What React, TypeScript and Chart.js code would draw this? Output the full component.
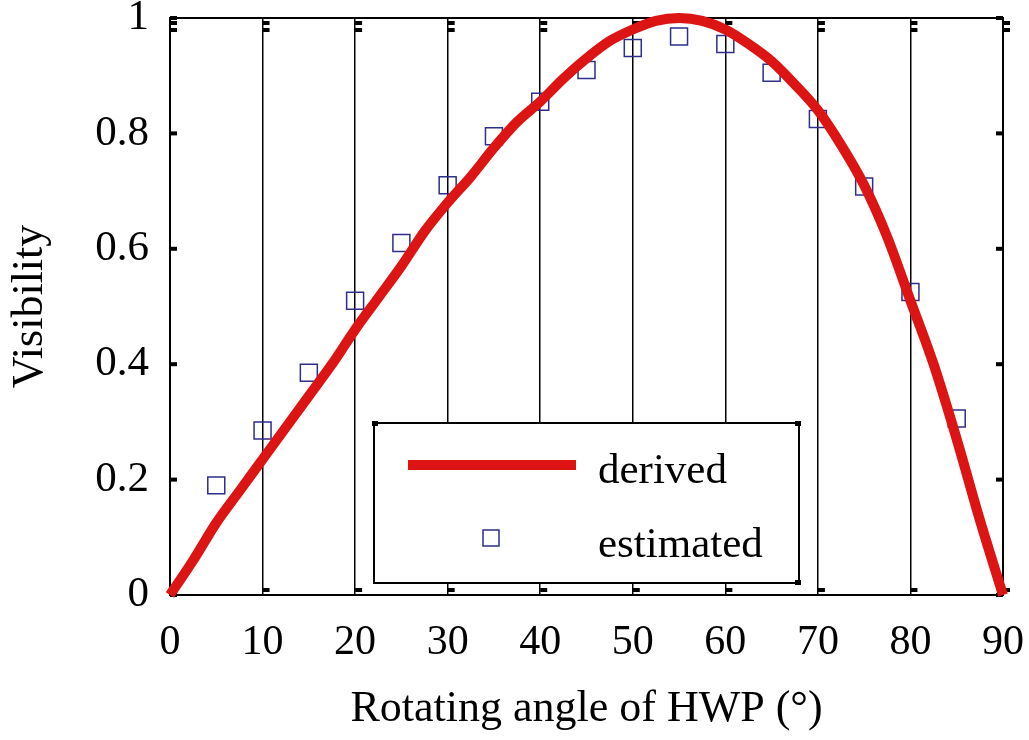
import React, { useEffect, useRef } from "react";
import { Chart, registerables } from "chart.js";

Chart.register(...registerables);

const derivedAngles = [0, 2.5, 5, 7.5, 10, 12.5, 15, 17.5, 20, 22.5, 25, 27.5, 30, 32.5, 35, 37.5, 40, 42.5, 45, 47.5, 50, 52.5, 55, 57.5, 60, 62.5, 65, 67.5, 70, 72.5, 75, 77.5, 80, 82.5, 85, 87.5, 90];
const derivedValues = [0, 0.06, 0.125, 0.18, 0.235, 0.29, 0.345, 0.4, 0.46, 0.515, 0.57, 0.63, 0.68, 0.725, 0.775, 0.82, 0.855, 0.895, 0.93, 0.96, 0.98, 0.995, 1.0, 0.995, 0.98, 0.955, 0.925, 0.885, 0.84, 0.78, 0.71, 0.62, 0.51, 0.4, 0.27, 0.13, 0];

const estimatedAngles = [5, 10, 15, 20, 25, 30, 35, 40, 45, 50, 55, 60, 65, 70, 75, 80, 85];
const estimatedValues = [0.19, 0.285, 0.385, 0.51, 0.61, 0.71, 0.795, 0.855, 0.91, 0.948, 0.968, 0.955, 0.905, 0.825, 0.708, 0.525, 0.306];

const xTicks = [0, 10, 20, 30, 40, 50, 60, 70, 80, 90];
const yTicks = [0, 0.2, 0.4, 0.6, 0.8, 1];
const seriesLabels = ["derived", "estimated"];

const RED = "#dc1414";
const NAVY = "#2e2e8c";
const FONT = "'Liberation Serif', 'DejaVu Serif', serif";

const framePlugin = {
  id: "frameAndLegend",
  beforeDatasetsDraw(chart: any) {
    const { ctx, chartArea } = chart;
    const { left, right, top, bottom } = chartArea;
    const xs = chart.scales.x;
    const ys = chart.scales.y;
    ctx.save();
    // tick marks
    ctx.fillStyle = "#000";
    xTicks.forEach((v) => {
      const px = xs.getPixelForValue(v);
      ctx.fillRect(px, bottom - 7, 7, 4);
      ctx.fillRect(px, top + 3, 7, 4);
      ctx.fillRect(px, top + 10, 7, 4);
    });
    yTicks.forEach((v) => {
      const py = ys.getPixelForValue(v);
      ctx.fillRect(left, py - 2, 7, 4);
      ctx.fillRect(right - 7, py - 2, 7, 4);
    });
    // legend box
    const bx = left + 204;
    const by = top + 405;
    const bw = 425;
    const bh = 160;
    ctx.fillStyle = "#fff";
    ctx.fillRect(bx, by, bw, bh);
    ctx.strokeStyle = "#000";
    ctx.lineWidth = 2;
    ctx.strokeRect(bx, by, bw, bh);
    ctx.fillStyle = "#000";
    ctx.fillRect(bx - 2, by - 2, 6, 5);
    ctx.fillRect(bx + bw - 4, by - 2, 6, 5);
    ctx.fillRect(bx + bw - 4, by + bh - 3, 6, 5);
    // red line sample
    ctx.strokeStyle = RED;
    ctx.lineWidth = 10;
    ctx.beginPath();
    ctx.moveTo(bx + 34, by + 42);
    ctx.lineTo(bx + 202, by + 42);
    ctx.stroke();
    // square sample
    ctx.strokeStyle = NAVY;
    ctx.lineWidth = 1.5;
    ctx.strokeRect(bx + 117 - 8, by + 115 - 8, 16, 16);
    // labels
    ctx.fillStyle = "#000";
    ctx.font = `43px ${FONT}`;
    ctx.textBaseline = "alphabetic";
    ctx.textAlign = "left";
    ctx.fillText(seriesLabels[0], bx + 224, by + 60);
    ctx.fillText(seriesLabels[1], bx + 224, by + 134);
    // frame
    ctx.strokeStyle = "#000";
    ctx.lineWidth = 2;
    ctx.strokeRect(left, top, right - left, bottom - top);
    ctx.restore();
  },
};

export default function App() {
  const ref = useRef<HTMLCanvasElement | null>(null);
  useEffect(() => {
    document.body.style.margin = "0";
    const canvas = ref.current!;
    const chart = new Chart(canvas, {
      type: "scatter",
      data: {
        datasets: [
          {
            label: seriesLabels[0],
            data: derivedAngles.map((x, i) => ({ x, y: derivedValues[i] })),
            showLine: true,
            borderColor: RED,
            backgroundColor: RED,
            borderWidth: 10,
            pointRadius: 0,
            tension: 0.4,
            cubicInterpolationMode: "monotone",
            clip: false,
          } as any,
          {
            label: seriesLabels[1],
            data: estimatedAngles.map((x, i) => ({ x, y: estimatedValues[i] })),
            showLine: false,
            pointStyle: "rect",
            pointRadius: 12,
            borderColor: NAVY,
            backgroundColor: "rgba(0,0,0,0)",
            borderWidth: 1.5,
          } as any,
        ],
      },
      options: {
        responsive: false,
        animation: false,
        layout: { padding: { left: 0, right: 26, top: 18, bottom: 0 } },
        plugins: { legend: { display: false }, tooltip: { enabled: false } },
        scales: {
          x: {
            type: "linear",
            min: 0,
            max: 90,
            afterBuildTicks: (s: any) => {
              s.ticks = xTicks.map((v) => ({ value: v }));
            },
            afterFit: (s: any) => {
              s.height = 145;
              s.paddingLeft = 0;
              s.paddingRight = 0;
            },
            grid: { color: "#000", lineWidth: 1.5, drawTicks: false },
            border: { display: false },
            ticks: {
              color: "#000",
              font: { family: FONT, size: 42 },
              padding: 23,
              maxRotation: 0,
              callback: (v: any) => String(v),
            },
            title: {
              display: true,
              text: "Rotating angle of HWP (°)",
              color: "#000",
              font: { family: FONT, size: 44 },
              padding: { top: 0, bottom: 4 },
            },
          },
          y: {
            type: "linear",
            min: 0,
            max: 1,
            afterBuildTicks: (s: any) => {
              s.ticks = yTicks.map((v) => ({ value: v }));
            },
            afterFit: (s: any) => {
              s.width = 170;
              s.paddingTop = 0;
              s.paddingBottom = 0;
            },
            grid: { display: false, drawTicks: false },
            border: { display: false },
            ticks: {
              color: "#000",
              font: { family: FONT, size: 43 },
              padding: 21,
              callback: (v: any) => String(v),
            },
            title: {
              display: true,
              text: "Visibility",
              color: "#000",
              font: { family: FONT, size: 44 },
              padding: { top: 4, bottom: 0 },
            },
          },
        },
      },
      plugins: [framePlugin],
    });
    return () => chart.destroy();
  }, []);
  return (
    <div style={{ position: "absolute", left: 0, top: 0, width: 1029, height: 740, background: "#fff" }}>
      <canvas ref={ref} width={1029} height={740} style={{ display: "block" }} />
    </div>
  );
}
